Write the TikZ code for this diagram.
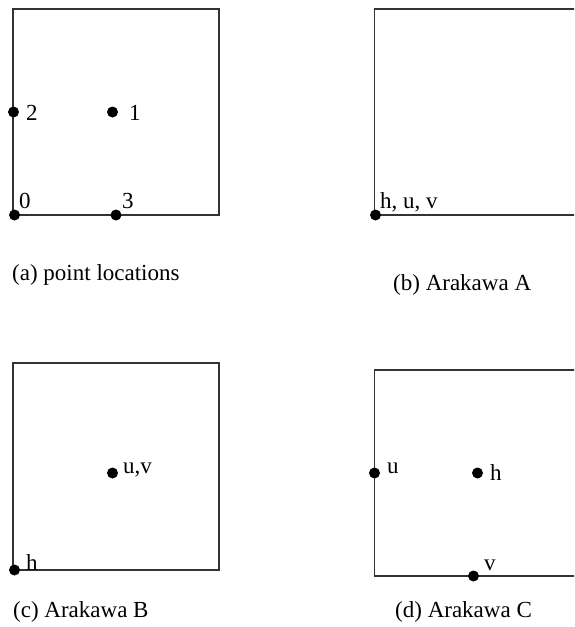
\documentclass[tikz,border=0pt]{standalone}
\usepackage{fontspec}
\setmainfont{Liberation Serif}
\begin{document}
\begin{tikzpicture}[x=1pt,y=-1pt,
  cell/.style={draw=black!80,line width=1.1pt},
  pt/.style={circle,fill=black,inner sep=0pt,minimum size=11pt},
  lbl/.style={anchor=base west,inner sep=0pt,font=\fontsize{23}{27}\selectfont},
  captext/.style={anchor=base west,inner sep=0pt,font=\fontsize{23}{27}\selectfont}]
\useasboundingbox (0,0) rectangle (574,627);
\clip (0,0) rectangle (574,627);
% (a)
\draw[cell] (13,9) rectangle (219,215);
\node[pt] (a0) at (14.5,215) {};
\node[pt] (a1) at (112.5,112) {};
\node[pt] (a2) at (13.5,112) {};
\node[pt] (a3) at (116,215) {};
\node[lbl] (la1) at (129,120) {1};
\node[lbl] (la2) at (26,120) {2};
\node[lbl] (la0) at (19,208) {0};
\node[lbl] (la3) at (122,208) {3};
\node[captext] (capa) at (12,280) {(a) point locations};
% (b)
\draw[cell] (374.5,9) rectangle (590,215);
\node[pt] (b0) at (375.5,215) {};
\node[lbl] (lb0) at (380,208) {h, u, v};
\node[captext] (capb) at (393,290) {(b) Arakawa A};
% (c)
\draw[cell] (13,363) rectangle (219,570);
\node[pt] (c0) at (14.5,570) {};
\node[pt] (c1) at (112.5,473) {};
\node[lbl] (lc0) at (26,570) {h};
\node[lbl] (lc1) at (123,473) {u,v};
\node[captext] (capc) at (13,617) {(c) Arakawa B};
% (d)
\draw[cell] (374.5,370) rectangle (590,576);
\node[pt] (du) at (374.5,473) {};
\node[pt] (dh) at (477.5,473) {};
\node[pt] (dv) at (473.5,576) {};
\node[lbl] (ldu) at (387,473) {u};
\node[lbl] (ldh) at (490,480) {h};
\node[lbl] (ldv) at (484,570) {v};
\node[captext] (capd) at (395,617) {(d) Arakawa C};
\end{tikzpicture}
\end{document}
